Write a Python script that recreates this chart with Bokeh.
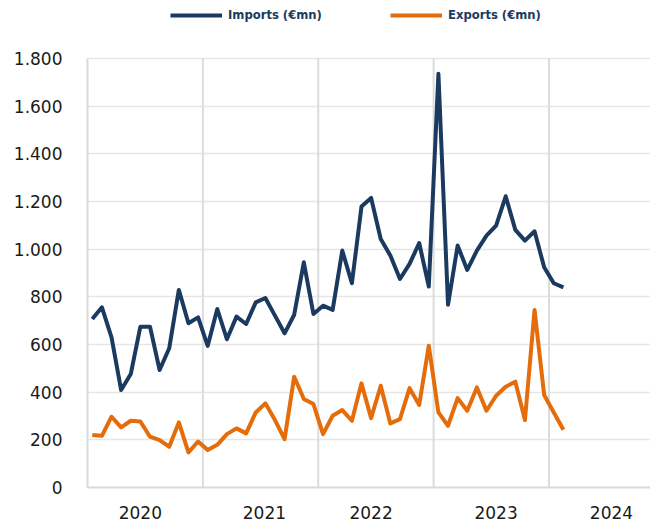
from bokeh.plotting import figure
from bokeh.models import Range1d, FixedTicker, Legend, LegendItem, ColumnDataSource
from bokeh.embed import file_html
from bokeh.resources import INLINE

# ---- data (monthly, Jan 2020 .. Feb 2024) ----
imports = [707, 756, 630, 409, 476, 675, 675, 493, 584, 829, 689, 714,
           594, 749, 622, 717, 686, 777, 795, 721, 647, 725, 945, 728,
           763, 745, 994, 857, 1179, 1215, 1043, 973, 875, 938, 1026, 843,
           1736, 767, 1015, 913, 994, 1057, 1099, 1222, 1081, 1036, 1075, 924,
           857, 840]
exports = [220, 217, 297, 252, 280, 277, 213, 199, 171, 273, 147, 193,
           157, 179, 224, 248, 227, 315, 353, 283, 203, 465, 371, 350,
           224, 301, 325, 280, 437, 291, 427, 269, 287, 417, 346, 595,
           315, 259, 375, 322, 420, 322, 385, 423, 444, 283, 745, 388,
           315, 242]
years = ["2020", "2021", "2022", "2023", "2024"]
y_ticks = [0, 200, 400, 600, 800, 1000, 1200, 1400, 1600, 1800]
y_labels = ["0", "200", "400", "600", "800", "1.000", "1.200", "1.400", "1.600", "1.800"]
Y_MAX = 1800

month_idx = list(range(len(imports)))
src = ColumnDataSource(dict(x=month_idx, imp=imports, exp=exports))
year_bounds = [12 * k - 0.5 for k in range(1, 5)]
grid_src = ColumnDataSource(dict(x=year_bounds, y0=[0] * len(year_bounds),
                                 y1=[Y_MAX] * len(year_bounds)))

NAVY = "#1b3a60"
ORANGE = "#e46c0a"
FONT = "DejaVu Sans"

FRAME_BOTTOM = 487
FRAME_TOP_1800 = 58
y_top = Y_MAX * FRAME_BOTTOM / (FRAME_BOTTOM - FRAME_TOP_1800)

p = figure(width=650, height=522, output_backend="svg", toolbar_location=None,
           x_range=Range1d(-0.5, 58.06), y_range=Range1d(0, y_top),
           min_border_left=87, min_border_top=0, min_border_bottom=522 - FRAME_BOTTOM,
           min_border_right=0)
p.outline_line_color = None

# vertical year-boundary grid lines (limited to the value range)
p.segment(x0="x", y0="y0", x1="x", y1="y1", source=grid_src,
          line_color="#dcdcdc", line_width=2)

r_imp = p.line("x", "imp", source=src, line_color=NAVY, line_width=4, line_join="round")
r_exp = p.line("x", "exp", source=src, line_color=ORANGE, line_width=4, line_join="round")

# y axis
p.yaxis.ticker = FixedTicker(ticks=y_ticks)
p.yaxis.bounds = (0, Y_MAX)
p.yaxis.major_label_overrides = {t: l for t, l in zip(y_ticks, y_labels)}
p.yaxis.major_tick_line_color = None
p.yaxis.minor_tick_line_color = None
p.yaxis.axis_line_color = "#d9d9d9"
p.yaxis.axis_line_width = 2
p.yaxis.major_label_text_font = FONT
p.yaxis.major_label_text_font_size = "17px"
p.yaxis.major_label_text_color = "#1a1a1a"
p.yaxis.major_label_standoff = 19

# x axis: labels near year centres
label_pos = [5.0, 17.9, 29.0, 42.0, 54.0]
p.xaxis.ticker = FixedTicker(ticks=label_pos)
p.xaxis.major_label_overrides = {t: y for t, y in zip(label_pos, years)}
p.xaxis.major_tick_line_color = None
p.xaxis.minor_tick_line_color = None
p.xaxis.axis_line_color = "#d9d9d9"
p.xaxis.axis_line_width = 2
p.xaxis.major_label_text_font = FONT
p.xaxis.major_label_text_font_size = "17px"
p.xaxis.major_label_text_color = "#1a1a1a"
p.xaxis.major_label_standoff = 12

p.xgrid.grid_line_color = None
p.ygrid.grid_line_color = "#e6e6e6"
p.ygrid.grid_line_width = 1.5


def mk_legend(label, r, x):
    return Legend(items=[LegendItem(label=label, renderers=[r])], location=(x, 462),
                  orientation="horizontal", glyph_width=52, glyph_height=20, label_height=20,
                  label_standoff=6, padding=0, margin=0, spacing=0,
                  background_fill_alpha=0, border_line_color=None,
                  label_text_font=FONT, label_text_font_size="11.6px",
                  label_text_font_style="bold", label_text_color=NAVY)


p.add_layout(mk_legend("Imports (€mn)", r_imp, 83))
p.add_layout(mk_legend("Exports (€mn)", r_exp, 303))

open("out.html", "w").write(file_html(p, INLINE))
